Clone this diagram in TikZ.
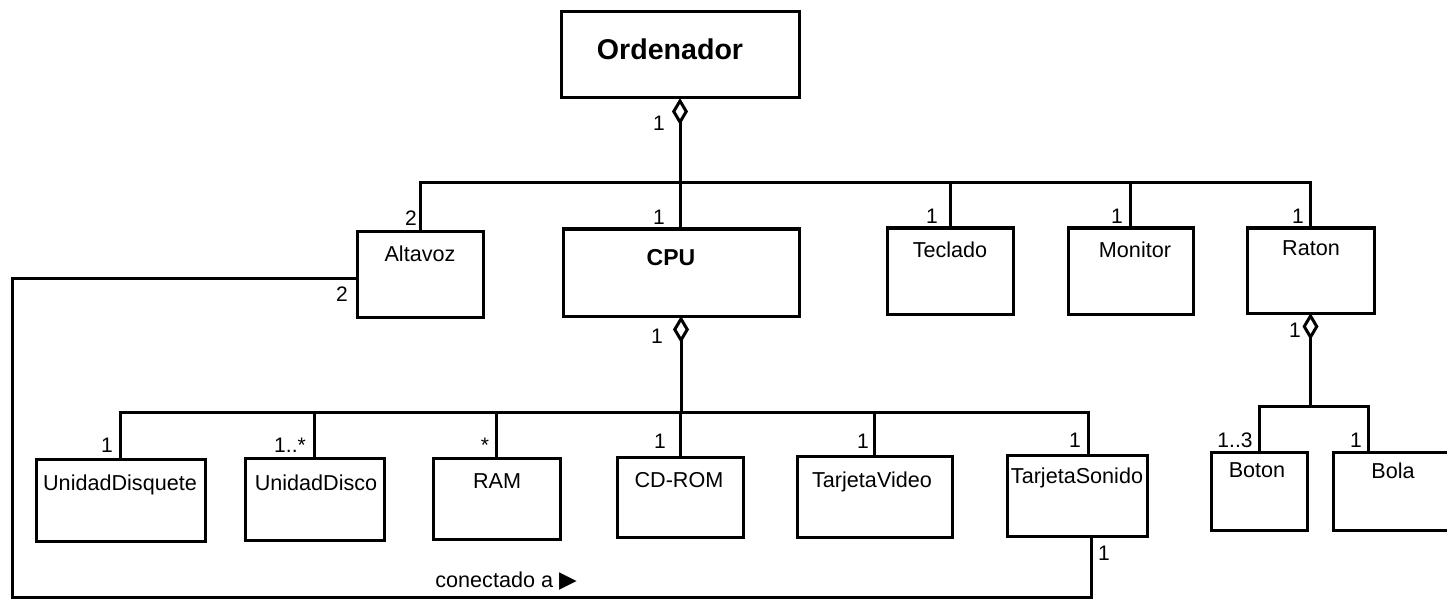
\documentclass[tikz,border=0pt]{standalone}
\usepackage{fontspec}
\setmainfont{Liberation Sans}
\newfontfamily\symfont{DejaVu Sans}
\usetikzlibrary{arrows.meta,calc}
\tikzset{
  cls/.style={draw, rectangle, line width=1.5pt, inner sep=0pt, outer sep=0pt},
  nm/.style={font=\fontsize{10.8}{12}\selectfont, inner sep=0pt, anchor=base},
  mult/.style={font=\fontsize{10.5}{12}\selectfont, inner sep=0pt, anchor=base},
  conn/.style={line width=1.5pt},
  agg/.style={conn, {Diamond[open,length=13.5pt,width=8pt]}-},
}
% name, x1, y1, x2, y2, text, text x, text baseline y
\newcommand\umlbox[8]{%
  \node[cls, anchor=north west, minimum width={(#4-#2)*0.5pt}, minimum height={(#5-#3)*0.5pt}] (#1) at (#2,#3) {};
  \node[nm] (#1-n) at (#7,#8) {#6};}
\begin{document}
\begin{tikzpicture}[x=0.5pt,y=-0.5pt]
\useasboundingbox (0,0) rectangle (1447,599);
% classes
\umlbox{ord}{561}{12}{799}{98}{\fontsize{14.3}{16}\selectfont\bfseries Ordenador}{670}{60}
\umlbox{alt}{357}{231}{483}{317}{Altavoz}{420}{262}
\umlbox{cpu}{563}{229}{799}{316}{\fontsize{11.5}{13}\selectfont\bfseries CPU}{671}{265}
\umlbox{tec}{887}{228}{1013}{314}{Teclado}{950}{257}
\umlbox{mon}{1068}{228}{1193}{314}{Monitor}{1135}{257}
\umlbox{rat}{1247}{228}{1374}{313}{Raton}{1311}{256}
\umlbox{ud}{36}{459}{205}{541}{UnidadDisquete}{120}{490}
\umlbox{udk}{245}{458}{384}{540}{UnidadDisco}{316}{490}
\umlbox{ram}{433}{458}{560}{539}{RAM}{497}{488}
\umlbox{cd}{617}{457}{743}{537}{CD-ROM}{679}{487}
\umlbox{tv}{797}{456}{952}{537}{TarjetaVideo}{872}{487}
\umlbox{ts}{1007}{455}{1147}{536}{TarjetaSonido}{1077}{483}
\umlbox{bot}{1211}{452}{1307}{530}{Boton}{1257}{477}
\umlbox{bol}{1333}{452}{1451}{530}{Bola}{1393}{478}
% Ordenador aggregation
\coordinate (b1) at (680,183);
\draw[agg] (ord.south) -- (ord.south |- cpu.north);
\draw[conn] (alt.north) |- (b1) -| (rat.north);
\draw[conn] (tec.north) -- (tec.north |- b1);
\draw[conn] (mon.north) -- (mon.north |- b1);
% CPU aggregation
\coordinate (b2) at (680,412);
\draw[agg] (cpu.south) -- (cpu.south |- b2);
\draw[conn] (ud.north) |- (b2) -| ([xshift=5.5pt]ts.north);
\draw[conn] (udk.north) -- (udk.north |- b2);
\draw[conn] (ram.north) -- (ram.north |- b2);
\draw[conn] (cd.north) -- (cd.north |- b2);
\draw[conn] (tv.north) -- (tv.north |- b2);
% Raton aggregation
\coordinate (b3) at (1312,406);
\draw[agg] (rat.south) -- (rat.south |- b3);
\draw[conn] (bot.north) |- (b3) -| ([xshift=17.5pt]bol.north west);
% conectado a
\coordinate (c1) at (12,597);
\draw[conn] ([xshift=7pt]ts.south) |- (c1) |- ([yshift=-2pt]alt.west);
\node[nm, anchor=base west] (lab) at (435,587) {conectado a {\symfont\fontsize{11.5}{12}\selectfont ▶}};
% multiplicities
\node[mult] (m1) at (659,131) {1};
\node[mult] (m2) at (659,225) {1};
\node[mult] (m3) at (411,226) {2};
\node[mult] (m4) at (342,301) {2};
\node[mult] (m5) at (932,223) {1};
\node[mult] (m6) at (1117,223) {1};
\node[mult] (m7) at (1298,223) {1};
\node[mult] (m8) at (1295,337) {1};
\node[mult] (m9) at (657,343) {1};
\node[mult] (m10) at (107,452) {1};
\node[mult] (m11) at (290,452) {1..*};
\node[mult] (m12) at (485,452) {*};
\node[mult] (m13) at (660,448) {1};
\node[mult] (m14) at (863,448) {1};
\node[mult] (m15) at (1075,447) {1};
\node[mult] (m16) at (1104,560) {1};
\node[mult] (m17) at (1235,447) {1..3};
\node[mult] (m18) at (1356,447) {1};
\end{tikzpicture}
\end{document}
